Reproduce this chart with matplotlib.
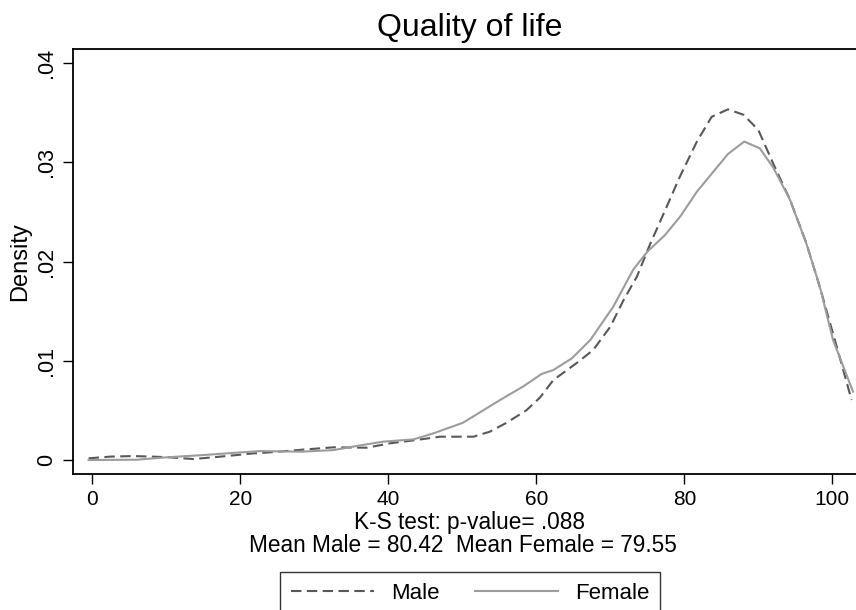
import matplotlib
matplotlib.use("Agg")
import matplotlib.pyplot as plt

plt.rcParams['font.family'] = ['Liberation Sans', 'DejaVu Sans']

title = "Quality of life"
note_lines = ["K-S test: p-value= .088", "Mean Male = 80.42  Mean Female = 79.55"]
ylabel = "Density"
xticks = [0, 20, 40, 60, 80, 100]
yticks = [0, 0.01, 0.02, 0.03, 0.04]
ytick_labels = ["0", ".01", ".02", ".03", ".04"]

male_x = [-0.5, 2.4, 5.5, 8.2, 10.5, 13.6, 16.3, 19.1, 21.8, 24, 28.5, 32.6, 37.1, 40.2,
          43.8, 47, 51.5, 53.7, 56, 58.7, 60.5, 62.3, 65.5, 67.7, 70.0, 71.8, 73.6, 75.4,
          77.6, 79.4, 81.7, 83.7, 85.9, 88, 90.0, 92.0, 94.3, 96.5, 98.3, 100.6, 102.6]
male_y = [0.00017, 0.00034, 0.0004, 0.00034, 0.00027, 0.0001, 0.00027, 0.00047, 0.00067,
          0.00077, 0.00105, 0.00128, 0.00124, 0.00168, 0.00202, 0.00235, 0.00235, 0.00285,
          0.00376, 0.00504, 0.0063, 0.00806, 0.0098, 0.0111, 0.01344, 0.01613, 0.0185,
          0.0218, 0.0255, 0.02856, 0.0321, 0.0346, 0.03535, 0.0348, 0.03327, 0.0299,
          0.0262, 0.02184, 0.01747, 0.01142, 0.00605]

female_x = [-0.5, 6, 10, 15, 19.5, 22.7, 28.3, 32.6, 35.7, 39.3, 43.4, 46.1, 50.1, 55.1,
            58.2, 60.7, 62.3, 64.8, 67.3, 70.4, 73.1, 75.0, 77.4, 79.5, 81.7, 85.9, 88.1,
            90.2, 92.0, 94.3, 96.5, 98.3, 100.1, 102.8]
female_y = [0.0, 0.00003, 0.00027, 0.0005, 0.00074, 0.0009, 0.00084, 0.001, 0.00141,
            0.00185, 0.00208, 0.00269, 0.00376, 0.00605, 0.0074, 0.00867, 0.00907, 0.01025,
            0.0121, 0.01546, 0.0192, 0.021, 0.02268, 0.0246, 0.02705, 0.03085, 0.0321,
            0.03142, 0.0295, 0.0262, 0.0218, 0.0175, 0.0121, 0.00689]

W, H = 856, 610
fig = plt.figure(figsize=(W / 100, H / 100), dpi=100)
fig.patch.set_facecolor('white')

left, right, top, bottom = 72.7, 856, 49, 474.3
ax = fig.add_axes([left / W, (H - bottom) / H, (right - left) / W, (bottom - top) / H])

male_line, = ax.plot(male_x, male_y, color='#585858', lw=1.5, linestyle=(0, (5, 2.6)),
                     label='Male')
female_line, = ax.plot(female_x, female_y, color='#9c9c9c', lw=1.5, label='Female')

ax.set_xlim(-2.65, 103.2)
ax.set_ylim(-0.00144, 0.04143)
ax.set_xticks(xticks)
ax.set_xticklabels([str(t) for t in xticks], fontsize=15)
ax.set_yticks(yticks)
ax.set_yticklabels(ytick_labels, fontsize=15.5, rotation=90, va='center')
ax.tick_params(direction='out', length=7, width=1.0, color='black', pad=4)
for s in ['left', 'bottom', 'top']:
    ax.spines[s].set_linewidth(1.3)
    ax.spines[s].set_color('black')
ax.spines['right'].set_visible(False)

ax.set_ylabel(ylabel, fontsize=17)
ax.yaxis.set_label_coords(-0.053, 0.5)

fig.text(470 / W, (H - 28) / H, title, ha='center', va='center', fontsize=23)
fig.text(470 / W, (H - 523) / H, note_lines[0], ha='center', va='center', fontsize=16.3)
fig.text(463 / W, (H - 545) / H, note_lines[1], ha='center', va='center', fontsize=16.3)

leg = fig.legend(handles=[male_line, female_line], loc='upper center',
                 bbox_to_anchor=(470 / W, (H - 572) / H), ncol=2, fontsize=16,
                 frameon=True, fancybox=False, handlelength=3.74, handletextpad=0.77,
                 columnspacing=1.58, borderpad=0.5, borderaxespad=0)
leg.get_frame().set_edgecolor('black')
leg.get_frame().set_linewidth(1.0)

fig.savefig('out.png', dpi=100)
